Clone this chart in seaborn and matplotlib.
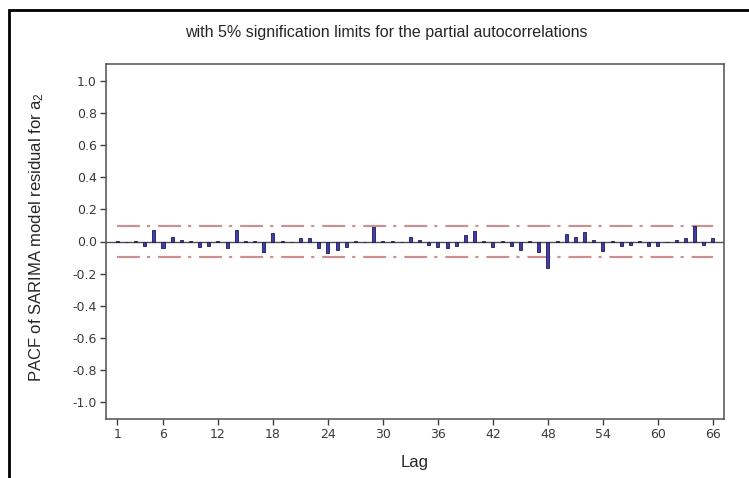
import matplotlib
matplotlib.use('Agg')
import matplotlib.pyplot as plt
from matplotlib.patches import Rectangle
import pandas as pd
import seaborn as sns

# partial autocorrelations of the SARIMA residuals, lags 1..66
lags = list(range(1, 67))
pacf = [0.002, -0.003, 0.003, -0.028, 0.072, -0.043, 0.028, 0.010, 0.006, -0.032,
        -0.028, 0.006, -0.043, 0.072, 0.002, 0.006, -0.065, 0.050, 0.002, -0.002,
        0.022, 0.022, -0.040, -0.072, -0.054, -0.032, 0.002, -0.002, 0.090, 0.006,
        0.001, -0.006, 0.028, 0.010, -0.020, -0.032, -0.042, -0.028, 0.040, 0.066,
        0.006, -0.032, 0.006, -0.028, -0.054, 0.002, -0.066, -0.168, 0.005, 0.045,
        0.025, 0.062, 0.012, -0.060, 0.003, -0.028, -0.022, 0.002, -0.027, -0.030,
        -0.005, 0.010, 0.023, 0.098, -0.024, 0.020]
sig_limit = 0.096
xtick_lags = [1, 6, 12, 18, 24, 30, 36, 42, 48, 54, 60, 66]
ytick_vals = [-1.0, -0.8, -0.6, -0.4, -0.2, 0.0, 0.2, 0.4, 0.6, 0.8, 1.0]

df = pd.DataFrame({'Lag': lags, 'PACF': pacf})
limits = pd.DataFrame({'Lag': [lags[0], lags[-1]]})

sns.set_style('white')
plt.rcParams['font.family'] = ['Liberation Sans', 'DejaVu Sans']
plt.rcParams['axes.unicode_minus'] = False
plt.rcParams['mathtext.fontset'] = 'custom'
plt.rcParams['mathtext.rm'] = 'Liberation Sans'
plt.rcParams['mathtext.it'] = 'Liberation Sans:italic'

fig = plt.figure(figsize=(7.49, 4.78), dpi=100)
ax = fig.add_axes([106 / 749, 59 / 478, 618 / 749, 355 / 478])

# 5% significance limits
dash = (0, (11, 3.4, 1.5, 3.8))
for sgn in (1, -1):
    sns.lineplot(x=limits['Lag'], y=[sgn * sig_limit] * 2, ax=ax, color='#d98a8a',
                 linewidth=1.5, linestyle=dash, zorder=2)

ax.axhline(0, color='#505050', linewidth=1.0, zorder=3)

sns.barplot(data=df, x='Lag', y='PACF', native_scale=True, width=0.33,
            color='#2424dc', edgecolor='#1c1c50', linewidth=0.6,
            errorbar=None, ax=ax, zorder=4)

ax.set_xlim(-0.22, 67.22)
ax.set_ylim(-1.108, 1.108)
ax.set_xticks(xtick_lags)
ax.set_xticklabels([str(v) for v in xtick_lags])
ax.set_yticks(ytick_vals)
ax.set_yticklabels(['%.1f' % v for v in ytick_vals])
ax.tick_params(axis='both', which='major', direction='out', length=4, width=1,
               color='#404040', labelsize=9, labelcolor='#3a3a3a', pad=2.5,
               bottom=True, left=True)
for lab in ax.get_xticklabels() + ax.get_yticklabels():
    lab.set_family('DejaVu Sans')
ax.set_xlabel('')
ax.set_ylabel('')
for sp in ax.spines.values():
    sp.set_color('#505050')
    sp.set_linewidth(1.1)

fig.text(386 / 749, 1 - 33 / 478, 'with 5% signification limits for the partial autocorrelations',
         ha='center', va='center', fontsize=11.5)
fig.text(37 / 749, 1 - 237 / 478, r'PACF of SARIMA model residual for a$_{\mathrm{2}}$',
         ha='center', va='center', rotation=90, fontsize=12)
fig.text(415 / 749, 1 - 462 / 478, 'Lag', ha='center', va='center', fontsize=12)

# outer frame of the original figure
fig.add_artist(Rectangle((9 / 749, -0.1), 1.2, 1.1 - 9.6 / 478, transform=fig.transFigure,
                         fill=False, edgecolor='black', linewidth=2, clip_on=False))

fig.savefig('out.png', dpi=100)
